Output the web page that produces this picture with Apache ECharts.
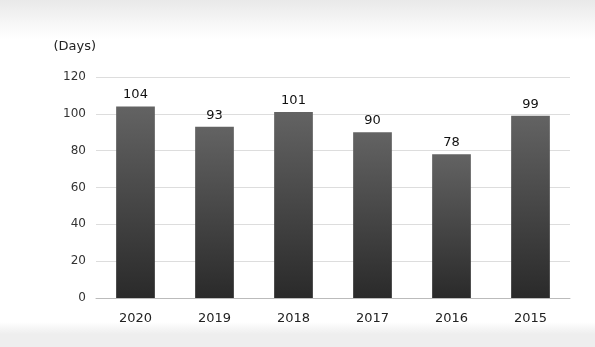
<!DOCTYPE html>
<html>
<head>
<meta charset="utf-8">
<script src="https://cdn.jsdelivr.net/npm/echarts@6/dist/echarts.min.js"></script>
<style>
  html, body { margin: 0; padding: 0; }
  body {
    width: 595px;
    height: 347px;
    background: linear-gradient(#e9e9e9 0px, #f6f6f6 22px, #ffffff 40px, #ffffff 322px, #eeeeee 334px, #eeeeee 347px);
  }
  #chart { width: 595px; height: 347px; }
</style>
</head>
<body>
<div id="chart"></div>
<script>
const years = ["2020", "2019", "2018", "2017", "2016", "2015"];
const days = [104, 93, 101, 90, 78, 99];
const yTicks = [0, 20, 40, 60, 80, 100, 120];

const chart = echarts.init(document.getElementById("chart"), null, { renderer: "canvas" });

chart.setOption({
  animation: false,
  backgroundColor: "transparent",
  textStyle: { fontFamily: "DejaVu Sans" },
  grid: { left: 96, right: 25, top: 77, bottom: 49 },
  xAxis: {
    type: "category",
    data: years,
    axisLine: { lineStyle: { color: "#bbbbbb" } },
    axisTick: { show: false },
    axisLabel: { color: "#222222", fontSize: 13, margin: 14 },
  },
  yAxis: {
    type: "value",
    name: "(Days)",
    nameLocation: "end",
    nameGap: 24,
    nameTextStyle: { color: "#222222", fontSize: 13, align: "right", padding: [0, 0, 0, 0] },
    min: yTicks[0],
    max: yTicks[yTicks.length - 1],
    interval: 20,
    axisLine: { show: false },
    axisTick: { show: false },
    axisLabel: { color: "#333333", fontSize: 12, margin: 10 },
    splitLine: { lineStyle: { color: "#dddddd" } },
  },
  series: [
    {
      type: "bar",
      data: days,
      barWidth: "49%",
      itemStyle: {
        color: new echarts.graphic.LinearGradient(0, 0, 0, 1, [
          { offset: 0, color: "#636363" },
          { offset: 1, color: "#2a2a2a" },
        ]),
      },
      label: {
        show: true,
        position: "top",
        distance: 5,
        color: "#111111",
        fontSize: 13,
      },
    },
  ],
});
</script>
</body>
</html>
